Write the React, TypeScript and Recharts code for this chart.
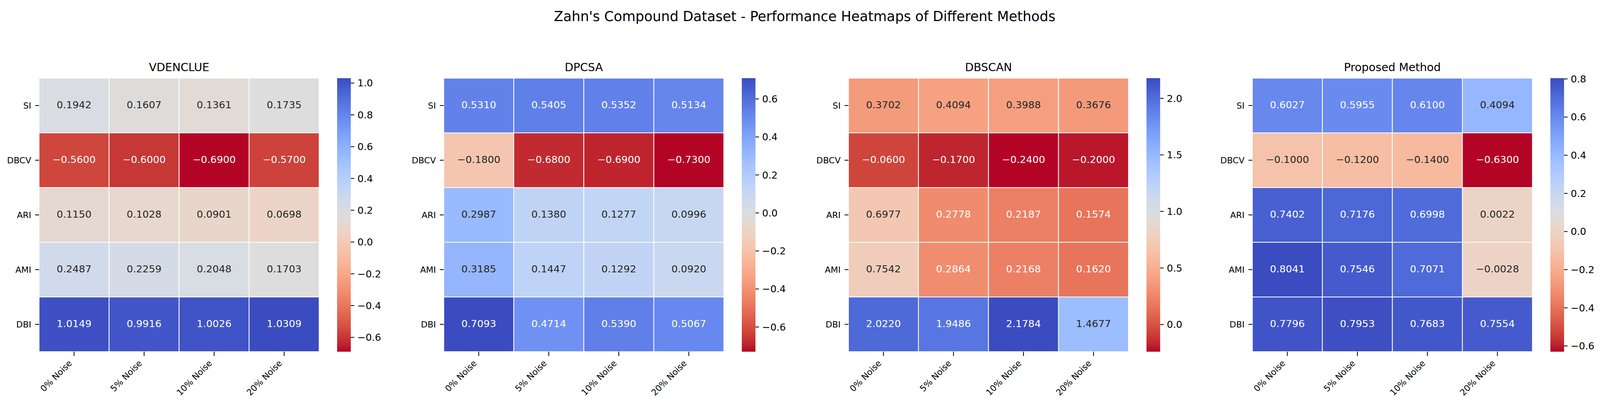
import React from 'react';
import { ComposedChart, XAxis, YAxis, ReferenceArea, Scatter } from 'recharts';

// ---------------- data ----------------
const suptitle = "Zahn's Compound Dataset - Performance Heatmaps of Different Methods";
const conditions = ['0% Noise', '5% Noise', '10% Noise', '20% Noise'];
const metrics = ['SI', 'DBCV', 'ARI', 'AMI', 'DBI'];
const methods = ['VDENCLUE', 'DPCSA', 'DBSCAN', 'Proposed Method'];

const vdenclue = [
  [0.1942, 0.1607, 0.1361, 0.1735],
  [-0.56, -0.6, -0.69, -0.57],
  [0.115, 0.1028, 0.0901, 0.0698],
  [0.2487, 0.2259, 0.2048, 0.1703],
  [1.0149, 0.9916, 1.0026, 1.0309],
];
const dpcsa = [
  [0.531, 0.5405, 0.5352, 0.5134],
  [-0.18, -0.68, -0.69, -0.73],
  [0.2987, 0.138, 0.1277, 0.0996],
  [0.3185, 0.1447, 0.1292, 0.092],
  [0.7093, 0.4714, 0.539, 0.5067],
];
const dbscan = [
  [0.3702, 0.4094, 0.3988, 0.3676],
  [-0.06, -0.17, -0.24, -0.2],
  [0.6977, 0.2778, 0.2187, 0.1574],
  [0.7542, 0.2864, 0.2168, 0.162],
  [2.022, 1.9486, 2.1784, 1.4677],
];
const proposed = [
  [0.6027, 0.5955, 0.61, 0.4094],
  [-0.1, -0.12, -0.14, -0.63],
  [0.7402, 0.7176, 0.6998, 0.0022],
  [0.8041, 0.7546, 0.7071, -0.0028],
  [0.7796, 0.7953, 0.7683, 0.7554],
];
const matrices = [vdenclue, dpcsa, dbscan, proposed];

const cbTicksVdenclue = [1.0, 0.8, 0.6, 0.4, 0.2, 0.0, -0.2, -0.4, -0.6];
const cbTicksDpcsa = [0.6, 0.4, 0.2, 0.0, -0.2, -0.4, -0.6];
const cbTicksDbscan = [2.0, 1.5, 1.0, 0.5, 0.0];
const cbTicksProposed = [0.8, 0.6, 0.4, 0.2, 0.0, -0.2, -0.4, -0.6];
const cbTicks = [cbTicksVdenclue, cbTicksDpcsa, cbTicksDbscan, cbTicksProposed];

// coolwarm colormap table (blue -> gray -> red)
const coolwarm: number[][] = [
  [59, 76, 192], [68, 90, 204], [77, 104, 215], [87, 117, 225], [98, 130, 234],
  [108, 142, 241], [119, 154, 247], [130, 165, 251], [141, 176, 254], [152, 185, 255],
  [163, 194, 255], [174, 201, 253], [184, 208, 249], [194, 213, 244], [204, 217, 238],
  [213, 219, 230], [221, 221, 221], [229, 216, 209], [236, 211, 197], [241, 204, 185],
  [245, 196, 173], [247, 187, 160], [247, 177, 148], [247, 166, 135], [244, 154, 123],
  [241, 141, 111], [236, 127, 99], [229, 112, 88], [222, 96, 77], [213, 80, 66],
  [203, 62, 56], [192, 40, 47], [180, 4, 38],
];

// ---------------- layout ----------------
const FONT = 'DejaVu Sans';
const W = 4127;
const H = 1039;
const heatLefts = [100, 1136, 2172, 3206];
const heatTop = 200;
const heatW = 717;
const heatH = 700;
const yAxisW = 100;
const xAxisH = 125;
const cbOffset = 763;
const cbW = 35;
const cbAxisW = 85;
const cbPad = 30;

function cmapRGB(p: number): number[] {
  const q = Math.max(0, Math.min(1, p)) * (coolwarm.length - 1);
  const i = Math.min(coolwarm.length - 2, Math.floor(q));
  const f = q - i;
  const a = coolwarm[i];
  const b = coolwarm[i + 1];
  return [0, 1, 2].map((k) => a[k] + (b[k] - a[k]) * f);
}
function rgbStr(c: number[]) {
  return `rgb(${Math.round(c[0])},${Math.round(c[1])},${Math.round(c[2])})`;
}
// coolwarm_r: low value -> red, high value -> blue
function colorFor(v: number, vmin: number, vmax: number) {
  const t = (v - vmin) / (vmax - vmin);
  return cmapRGB(1 - t);
}
function luminance(c: number[]) {
  const lin = c.map((x) => {
    const s = x / 255;
    return s <= 0.03928 ? s / 12.92 : Math.pow((s + 0.055) / 1.055, 2.4);
  });
  return 0.2126 * lin[0] + 0.7152 * lin[1] + 0.0722 * lin[2];
}
const fmt4 = (v: number) => v.toFixed(4).replace('-', '\u2212');
const fmt1 = (v: number) => v.toFixed(1).replace('-', '\u2212');

const XTick = (props: any) => {
  const { x, y, payload } = props;
  const label = conditions[Math.floor(payload.value)];
  const ax = x - 4;
  const ay = y + 20;
  return (
    <text x={ax} y={ay} transform={`rotate(-45 ${ax} ${ay})`} textAnchor="end" fontSize={22} fill="#000" fontFamily={FONT}>
      {label}
    </text>
  );
};

function Heatmap({ idx }: { idx: number }) {
  const m = matrices[idx];
  const flat = m.flat();
  const vmin = Math.min(...flat);
  const vmax = Math.max(...flat);
  const cells = m.flatMap((row, r) => row.map((v, c) => ({ x: c + 0.5, y: r + 0.5, r, c, v })));
  const left = heatLefts[idx];
  return (
    <div style={{ position: 'absolute', left: left - yAxisW, top: heatTop - 10 }}>
      <ComposedChart width={yAxisW + heatW + 20} height={heatH + 10 + xAxisH} margin={{ top: 10, right: 20, bottom: 0, left: 0 }} data={cells}>
        <XAxis type="number" dataKey="x" domain={[0, conditions.length]} ticks={conditions.map((_, i) => i + 0.5)} interval={0} height={xAxisH} axisLine={false} tickSize={11} tickMargin={0} tickLine={{ stroke: '#000', strokeWidth: 2 }} tick={<XTick />} />
        <YAxis type="number" dataKey="y" domain={[0, metrics.length]} reversed ticks={metrics.map((_, i) => i + 0.5)} interval={0} width={yAxisW} axisLine={false} tickSize={10} tickMargin={10} tickLine={{ stroke: '#000', strokeWidth: 2 }} tickFormatter={(v: number) => metrics[Math.floor(v)]} tick={{ fill: '#000', fontSize: 22, fontFamily: FONT }} />
        {cells.map((d) => (
          <ReferenceArea key={`${d.r}-${d.c}`} x1={d.c} x2={d.c + 1} y1={d.r} y2={d.r + 1} fill={rgbStr(colorFor(d.v, vmin, vmax))} fillOpacity={1} stroke="#ffffff" strokeWidth={2} ifOverflow="visible" />
        ))}
        <Scatter
          data={cells}
          isAnimationActive={false}
          shape={(p: any) => {
            const v = p.payload.v;
            const col = colorFor(v, vmin, vmax);
            const fill = luminance(col) > 0.408 ? '#262626' : '#ffffff';
            return (
              <text x={p.cx} y={p.cy} dy="0.27em" textAnchor="middle" fontSize={25.5} fill={fill} fontFamily={FONT}>
                {fmt4(v)}
              </text>
            );
          }}
        />
      </ComposedChart>
    </div>
  );
}

function Colorbar({ idx }: { idx: number }) {
  const m = matrices[idx];
  const flat = m.flat();
  const vmin = Math.min(...flat);
  const vmax = Math.max(...flat);
  const left = heatLefts[idx] + cbOffset;
  const gid = `cbgrad${idx}`;
  return (
    <div style={{ position: 'absolute', left, top: heatTop - cbPad }}>
      <ComposedChart width={cbW + cbAxisW} height={heatH + 2 * cbPad} margin={{ top: cbPad, right: 0, bottom: cbPad, left: 0 }} data={[{ x: 0.5, y: vmin }]}>
        <defs>
          <linearGradient id={gid} x1="0" y1="0" x2="0" y2="1">
            {coolwarm.map((c, k) => (
              <stop key={k} offset={k / (coolwarm.length - 1)} stopColor={rgbStr(c)} />
            ))}
          </linearGradient>
        </defs>
        <XAxis type="number" dataKey="x" domain={[0, 1]} hide />
        <YAxis type="number" dataKey="y" orientation="right" domain={[vmin, vmax]} allowDataOverflow ticks={cbTicks[idx]} interval={0} width={cbAxisW} axisLine={false} tickSize={9} tickMargin={8} tickLine={{ stroke: '#000', strokeWidth: 2 }} tickFormatter={(v: number) => fmt1(v)} tick={{ fill: '#000', fontSize: 25, fontFamily: FONT }} />
        <ReferenceArea x1={0} x2={1} y1={vmin} y2={vmax} fill={`url(#${gid})`} fillOpacity={1} stroke="none" ifOverflow="visible" />
      </ComposedChart>
    </div>
  );
}

export default function App() {
  return (
    <div style={{ position: 'fixed', left: 0, top: 0, width: W, height: H, background: '#ffffff', fontFamily: FONT, overflow: 'hidden' }}>
      <style>{'html, body { margin: 0; padding: 0; overflow: hidden; }'}</style>
      <svg width={W} height={H} style={{ position: 'absolute', left: 0, top: 0 }}>
        <text x={2060} y={54} textAnchor="middle" fontSize={35} fill="#000" fontFamily={FONT}>
          {suptitle}
        </text>
        {methods.map((name, i) => (
          <text key={name} x={heatLefts[i] + heatW / 2} y={182} textAnchor="middle" fontSize={28.6} fill="#000" fontFamily={FONT}>
            {name}
          </text>
        ))}
      </svg>
      {methods.map((_, i) => (
        <Heatmap key={`h${i}`} idx={i} />
      ))}
      {methods.map((_, i) => (
        <Colorbar key={`c${i}`} idx={i} />
      ))}
    </div>
  );
}
